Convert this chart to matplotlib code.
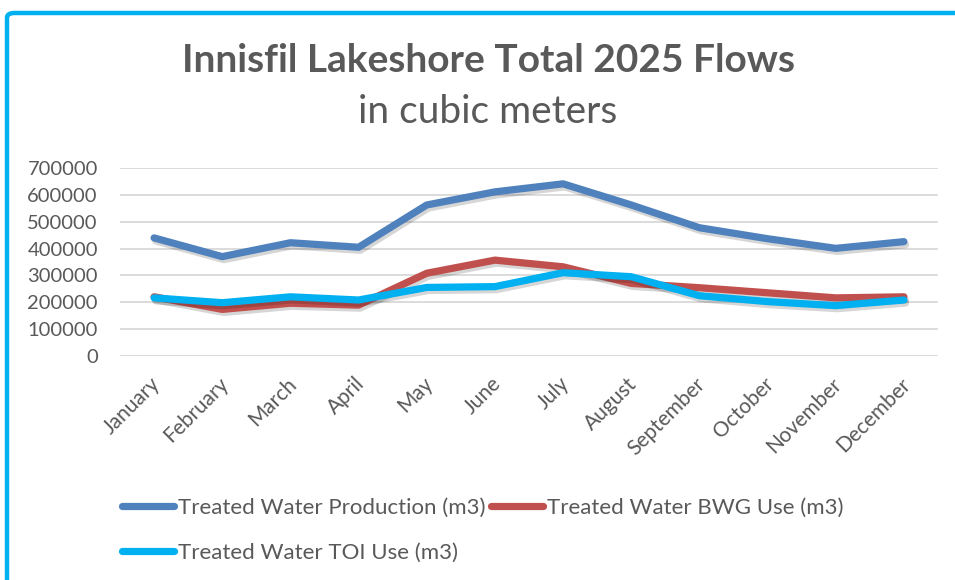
import matplotlib
matplotlib.use("Agg")
import matplotlib.pyplot as plt
import matplotlib.patheffects as pe
import matplotlib.transforms as mtransforms
from matplotlib.patches import FancyBboxPatch

months = ["January", "February", "March", "April", "May", "June", "July",
          "August", "September", "October", "November", "December"]
production = [440000, 370000, 422000, 405000, 563000, 612000, 642000,
              563000, 478000, 437000, 401000, 426000]
bwg_use = [220000, 173000, 196000, 189000, 308000, 357000, 332000,
           270000, 254000, 235000, 216000, 220000]
toi_use = [216000, 198000, 220000, 208000, 255000, 258000, 310000,
           295000, 224000, 202000, 187000, 208000]
series_names = ["Treated Water Production (m3)", "Treated Water BWG Use (m3)",
                "Treated Water TOI Use (m3)"]
yticks = [0, 100000, 200000, 300000, 400000, 500000, 600000, 700000]

plt.rcParams['font.family'] = ['Lato', 'DejaVu Sans']
TXT = '#595959'
W, H = 955, 580
fig = plt.figure(figsize=(W / 100, H / 100), dpi=100)

# border frame (cyan)
frame = FancyBboxPatch((7 / W, -0.2), 1.2, 1 - 13 / H + 0.2,
                       boxstyle="round,pad=0,rounding_size=0.008",
                       transform=fig.transFigure, fill=False,
                       edgecolor='#00B0F0', linewidth=3.2, clip_on=False)
fig.patches.append(frame)

ax = fig.add_axes([120 / W, 1 - 355.7 / H, (938 - 120) / W, (355.7 - 168.3) / H])
x = list(range(len(months)))
colors = ['#4F81BD', '#C0504D', '#00B0F0']
handles = []
for vals, c, name in zip([production, bwg_use, toi_use], colors, series_names):
    ln, = ax.plot(x, vals, color=c, linewidth=5.2, solid_capstyle='round',
                  solid_joinstyle='round', label=name,
                  path_effects=[pe.SimpleLineShadow(offset=(1.2, -2.2), shadow_color='k', alpha=0.16),
                                pe.Normal()])
    handles.append(ln)

ax.set_xlim(-0.5, len(months) - 0.5)
ax.set_ylim(0, 700000)
ax.set_yticks(yticks)
ax.set_yticklabels([str(v) for v in yticks])
ax.yaxis.grid(True, color='#D9D9D9', linewidth=1.3)
ax.set_axisbelow(True)
for s in ax.spines.values():
    s.set_visible(False)
ax.tick_params(axis='both', length=0, labelsize=14.5, labelcolor=TXT)
ax.tick_params(axis='y', pad=16)
ax.set_xticks(x)
ax.set_xticklabels(months, rotation=45, ha='right', rotation_mode='anchor',
                   fontsize=15)
ax.tick_params(axis='x', pad=13)
shift = mtransforms.ScaledTranslation(-0.04, 0, fig.dpi_scale_trans)
for lbl in ax.get_xticklabels():
    lbl.set_transform(lbl.get_transform() + shift)

fig.text(488 / W, 1 - 60 / H, "Innisfil Lakeshore Total 2025 Flows", ha='center',
         va='center', fontsize=28, fontweight='bold', color=TXT)
fig.text(488 / W, 1 - 112 / H, "in cubic meters", ha='center', va='center',
         fontsize=28, color=TXT)

leg_handles = [handles[0], handles[2], handles[1]]
leg_labels = [series_names[0], series_names[2], series_names[1]]
leg = fig.legend(leg_handles, leg_labels, loc='upper left',
                 bbox_to_anchor=(102 / W, 1 - 478 / H), ncol=2, frameon=False,
                 fontsize=16, handlelength=2.33, handletextpad=0.18,
                 columnspacing=0.27, labelspacing=1.1, labelcolor=TXT)
for lh in leg.get_lines():
    lh.set_path_effects([pe.Normal()])

fig.savefig("out.png", dpi=100)
